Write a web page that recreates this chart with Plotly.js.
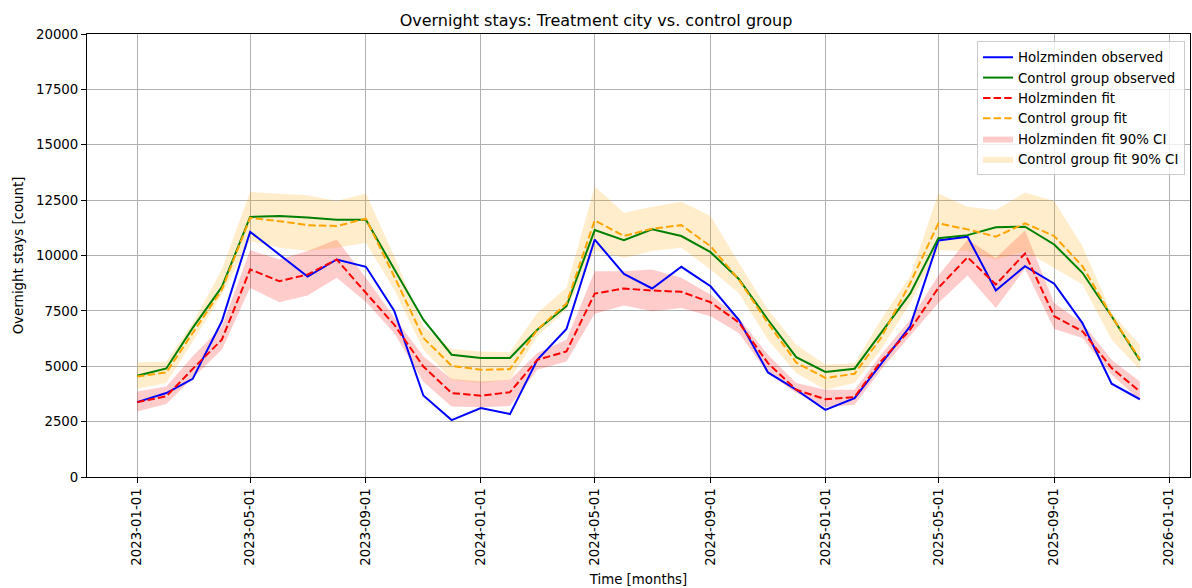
<!DOCTYPE html>
<html>
<head>
<meta charset="utf-8">
<script src="https://cdn.plot.ly/plotly-3.0.1.min.js"></script>
<style>html,body{margin:0;padding:0;background:#fff;}#chart{width:1192px;height:588px;}</style>
</head>
<body>
<div id="chart"></div>
<script>
const months = ['2023-01-01','2023-02-01','2023-03-01','2023-04-01','2023-05-01','2023-06-01','2023-07-01','2023-08-01','2023-09-01','2023-10-01','2023-11-01','2023-12-01',
'2024-01-01','2024-02-01','2024-03-01','2024-04-01','2024-05-01','2024-06-01','2024-07-01','2024-08-01','2024-09-01','2024-10-01','2024-11-01','2024-12-01',
'2025-01-01','2025-02-01','2025-03-01','2025-04-01','2025-05-01','2025-06-01','2025-07-01','2025-08-01','2025-09-01','2025-10-01','2025-11-01','2025-12-01'];

const holzObs = [3380,3790,4430,7030,11070,10050,9050,9820,9490,7510,3680,2570,3110,2840,5290,6680,10720,9170,8510,9490,8610,7100,4720,3940,3030,3560,5100,6800,10680,10850,8420,9520,8730,6950,4210,3510];
const ctrlObs = [4570,4900,6730,8580,11740,11780,11720,11610,11610,9380,7100,5520,5370,5370,6650,7710,11150,10690,11180,10880,10150,8940,7100,5410,4740,4890,6500,8280,10780,10920,11270,11300,10500,9220,7260,5260];
const holzFit = [3380,3640,4880,6200,9370,8840,9140,9820,8310,6880,4990,3790,3670,3830,5290,5670,8280,8510,8420,8360,7890,6980,5140,3940,3510,3610,5220,6650,8540,9920,8690,10090,7260,6580,4920,3860];
const ctrlFit = [4540,4720,6500,8460,11700,11550,11370,11330,11660,9060,6280,5020,4840,4870,6650,7830,11590,10880,11210,11370,10420,8910,6950,5170,4470,4660,6280,8750,11450,11180,10850,11450,10880,9520,7260,5320];
const holzUpper = [3860,4090,5450,6800,10240,9820,10200,10720,9000,7200,5450,4420,4310,4390,5600,6200,9290,9290,9370,8990,8240,7180,5520,4240,3940,3940,5520,7100,9100,10720,9890,11130,7860,6950,5290,4310];
const holzLower = [2960,3300,4470,5750,8540,7890,8190,8990,7900,6500,4300,3180,3150,3210,4840,5220,7370,7740,7480,7630,7260,6500,4690,3790,3150,3260,4840,6350,7860,9100,7630,9400,6680,6280,4620,3480];
const ctrlUpper = [5170,5220,6950,9370,12870,12800,12720,12460,12800,9970,6800,5780,5670,5630,7400,8540,13110,11930,12200,12430,11780,9670,7560,5970,5070,5140,7100,9060,12800,12200,12050,12840,12460,10420,7400,5970];
const ctrlLower = [3970,4240,6120,8240,10650,10350,10200,10350,10570,8460,5750,4390,4240,4390,6350,7560,10240,9890,10200,10350,9370,8310,6200,4690,3940,4240,5750,7860,10240,10200,9820,10200,9440,8690,6200,4840];

const xTicks = ['2023-01-01','2023-05-01','2023-09-01','2024-01-01','2024-05-01','2024-09-01','2025-01-01','2025-05-01','2025-09-01','2026-01-01'];
const yTicks = [0,2500,5000,7500,10000,12500,15000,17500,20000];

const dash = '7.4px,3.2px';
const traces = [
  {x: months, y: holzUpper, type:'scatter', mode:'lines', line:{width:0, color:'rgba(255,0,0,0)'}, showlegend:false, hoverinfo:'skip'},
  {x: months, y: holzLower, type:'scatter', mode:'lines', line:{width:0, color:'rgba(255,0,0,0)'}, fill:'tonexty', fillcolor:'rgba(255,0,0,0.2)', name:'Holzminden fit 90% CI', legendrank:5},
  {x: months, y: ctrlUpper, type:'scatter', mode:'lines', line:{width:0, color:'rgba(255,165,0,0)'}, showlegend:false, hoverinfo:'skip'},
  {x: months, y: ctrlLower, type:'scatter', mode:'lines', line:{width:0, color:'rgba(255,165,0,0)'}, fill:'tonexty', fillcolor:'rgba(255,165,0,0.2)', name:'Control group fit 90% CI', legendrank:6},
  {x: months, y: holzObs, type:'scatter', mode:'lines', line:{color:'#0000ff', width:2}, name:'Holzminden observed', legendrank:1},
  {x: months, y: ctrlObs, type:'scatter', mode:'lines', line:{color:'#008000', width:2}, name:'Control group observed', legendrank:2},
  {x: months, y: holzFit, type:'scatter', mode:'lines', line:{color:'#ff0000', width:2, dash:dash}, name:'Holzminden fit', legendrank:3},
  {x: months, y: ctrlFit, type:'scatter', mode:'lines', line:{color:'#ffa500', width:2, dash:dash}, name:'Control group fit', legendrank:4}
];

const font = {family:'"DejaVu Sans", sans-serif', size:13.33, color:'#000'};
const layout = {
  width:1192, height:588,
  margin:{l:87, r:2, t:34, b:111},
  paper_bgcolor:'#fff', plot_bgcolor:'#fff',
  font: font,
  title:{text:'Overnight stays: Treatment city vs. control group', font:{family:font.family, size:16, color:'#000'}, x:0.5, xanchor:'center', y:0.965, yanchor:'middle'},
  xaxis:{
    type:'date', range:['2022-11-08 18:00','2026-01-23 06:00'],
    tickmode:'array', tickvals:xTicks, ticktext:xTicks, tickangle:-90,
    showgrid:true, gridcolor:'#b0b0b0', gridwidth:1,
    showline:true, linecolor:'#000', linewidth:1, mirror:true,
    ticks:'outside', ticklen:5, tickcolor:'#000', zeroline:false,
    title:{text:'Time [months]', font:font, standoff:9}
  },
  yaxis:{
    range:[0,20000], tickmode:'array', tickvals:yTicks, ticktext:yTicks.map(String),
    showgrid:true, gridcolor:'#b0b0b0', gridwidth:1,
    showline:true, linecolor:'#000', linewidth:1, mirror:true,
    ticks:'outside', ticklen:5, tickcolor:'#000', zeroline:false,
    title:{text:'Overnight stays [count]', font:font, standoff:9}
  },
  legend:{x:0.9955, xanchor:'right', y:0.984, yanchor:'top', bgcolor:'rgba(255,255,255,0.8)', bordercolor:'#cccccc', borderwidth:1, font:font, traceorder:'normal'},
  showlegend:true
};
Plotly.newPlot('chart', traces, layout, {staticPlot:true, displayModeBar:false});
</script>
</body>
</html>
